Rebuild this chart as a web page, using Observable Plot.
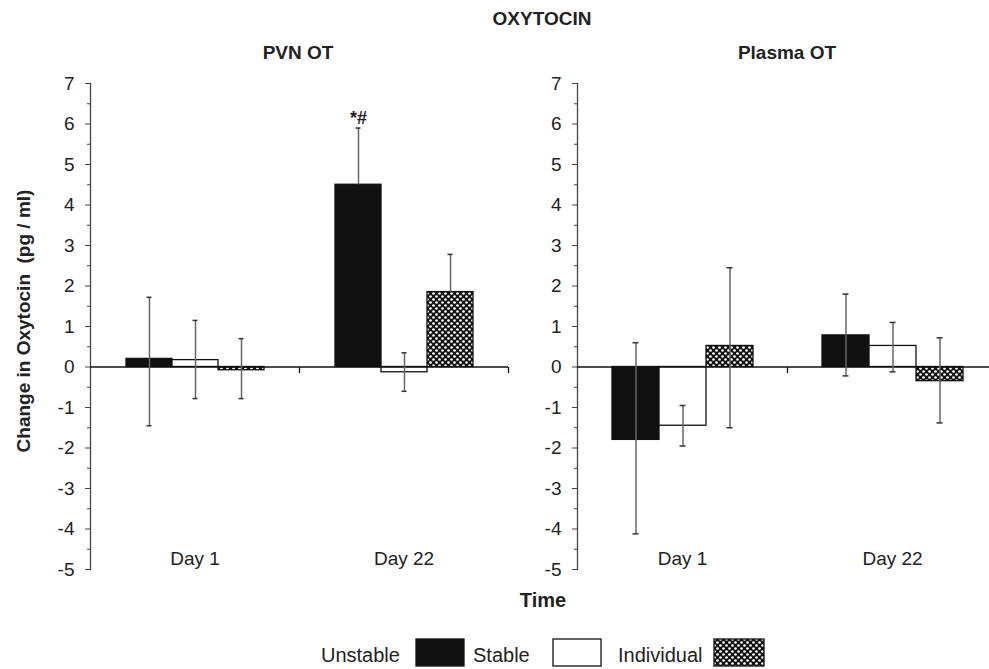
<!DOCTYPE html>
<html>
<head>
<meta charset="utf-8">
<script src="https://cdn.jsdelivr.net/npm/d3@7"></script>
<script src="https://cdn.jsdelivr.net/npm/@observablehq/plot@0.6"></script>
<style>
  html, body { margin: 0; padding: 0; background: #fff; overflow: hidden; }
  #wrap { position: relative; width: 989px; height: 669px; overflow: hidden; font-family: "Liberation Sans", Arial, sans-serif; color: #222; }
  .t { position: absolute; white-space: nowrap; }
  .bold { font-weight: bold; }
  .plot { position: absolute; }
</style>
</head>
<body>
<svg width="0" height="0" style="position:absolute">
  <defs>
    <pattern id="hatch" width="6" height="6" patternUnits="userSpaceOnUse">
      <rect width="6" height="6" fill="#111"></rect>
      <circle cx="1.5" cy="1.5" r="1.35" fill="#fff"></circle>
      <circle cx="4.5" cy="4.5" r="1.35" fill="#fff"></circle>
    </pattern>
  </defs>
</svg>
<div id="wrap"></div>
<script>
// ---- data (order: Day 1 Unstable, Stable, Individual, Day 22 Unstable, Stable, Individual)
const days = ["Day 1", "Day 22"];
const groups = ["Unstable", "Stable", "Individual"];
const panelTitles = ["PVN OT", "Plasma OT"];
const yTicks = [-5, -4, -3, -2, -1, 0, 1, 2, 3, 4, 5, 6, 7];
const yMinorTicks = [-4.5, -3.5, -2.5, -1.5, -0.5, 0.5, 1.5, 2.5, 3.5, 4.5, 5.5, 6.5];

const pvnMean  = [0.2, 0.17, -0.08, 4.5, -0.13, 1.85];
const pvnLower = [-1.45, -0.78, -0.78, 4.5, -0.6, 1.85];
const pvnUpper = [1.72, 1.15, 0.7, 5.9, 0.35, 2.78];
const pvnSig   = ["", "", "", "*#", "", ""];

const plasmaMean  = [-1.8, -1.45, 0.52, 0.78, 0.52, -0.35];
const plasmaLower = [-4.12, -1.95, -1.5, -0.22, -0.12, -1.38];
const plasmaUpper = [0.6, -0.95, 2.45, 1.8, 1.1, 0.72];
const plasmaSig   = ["", "", "", "", "", ""];

const fills = ["#111", "#fff", "url(#hatch)"];

function rowsFor(mean, lo, hi, sig) {
  return days.flatMap((day, i) => groups.map((group, j) => {
    const k = i * groups.length + j;
    return {day, group, mean: mean[k], lo: lo[k], hi: hi[k], sig: sig[k]};
  }));
}

function panel(rows, opts) {
  return Plot.plot({
    width: opts.width,
    height: 510,
    marginTop: 13,
    marginBottom: 11,
    marginLeft: opts.marginLeft,
    marginRight: opts.marginRight,
    style: {fontFamily: '"Liberation Sans", Arial, sans-serif', fontSize: "19px", color: "#222", background: "transparent", overflow: "visible"},
    fx: {domain: days, padding: 0, axis: null},
    x: {type: "band", domain: groups, paddingInner: 0, paddingOuter: 0.73, axis: null},
    y: {domain: [-5, 7], axis: null},
    color: {type: "ordinal", domain: groups, range: fills},
    marks: [
      Plot.frame({anchor: "left", facet: "super", stroke: "#444", strokeWidth: 1.3}),
      Plot.axisY(yMinorTicks, {tickSize: 3, tickFormat: () => "", stroke: "#444", label: null}),
      Plot.axisY(yTicks, {tickSize: 5, tickPadding: 11, tickFormat: d => String(d), fontSize: 19, stroke: "#444", fill: "#222", label: null}),
      Plot.barY(rows, {fx: "day", x: "group", y: "mean", fill: "group", stroke: "#111", strokeWidth: 1.3}),
      Plot.ruleY([0], {stroke: "#111", strokeWidth: 1.3}),
      Plot.dot(days, {fx: d => d, y: () => 0, frameAnchor: "right", r: 3, fill: "none", stroke: "#111", strokeWidth: 1.3,
        symbol: {draw(ctx) { ctx.moveTo(0, 0); ctx.lineTo(0, 6); }}}),
      Plot.ruleX(rows, {fx: "day", x: "group", y1: "lo", y2: "hi", stroke: "#666", strokeWidth: 1.5}),
      Plot.tickY(rows.filter(r => r.hi > r.mean), {fx: "day", x: "group", y: "hi", stroke: "#333", strokeWidth: 1.5, insetLeft: 20.5, insetRight: 20.5}),
      Plot.tickY(rows.filter(r => r.lo < r.mean), {fx: "day", x: "group", y: "lo", stroke: "#333", strokeWidth: 1.5, insetLeft: 20.5, insetRight: 20.5}),
      Plot.text(rows.filter(r => r.sig), {fx: "day", x: "group", y: "hi", text: "sig", dy: -10, fontSize: 18, fontWeight: "bold", fill: "#222"}),
      Plot.text(days, {fx: d => d, text: d => d, frameAnchor: "bottom", dy: -5, fontSize: 19, fill: "#222"})
    ]
  });
}

const wrap = document.getElementById("wrap");

function addText(txt, css, cls) {
  const el = document.createElement("div");
  el.className = "t " + (cls || "");
  el.textContent = txt;
  Object.assign(el.style, css);
  wrap.appendChild(el);
  return el;
}

// titles
addText("OXYTOCIN", {left: "542px", top: "8px", transform: "translateX(-50%)", fontSize: "19px"}, "bold");
addText(panelTitles[0], {left: "298px", top: "42px", transform: "translateX(-50%)", fontSize: "19px"}, "bold");
addText(panelTitles[1], {left: "787px", top: "42px", transform: "translateX(-50%)", fontSize: "19px"}, "bold");
addText("Change in Oxytocin  (pg / ml)", {left: "24px", top: "321px", transform: "translate(-50%,-50%) rotate(-90deg)", fontSize: "19px", whiteSpace: "pre"}, "bold");
addText("Time", {left: "543px", top: "589px", transform: "translateX(-50%)", fontSize: "20px"}, "bold");

// panels
const left = panel(rowsFor(pvnMean, pvnLower, pvnUpper, pvnSig), {width: 510, marginLeft: 89, marginRight: 2});
left.classList.add("plot");
Object.assign(left.style, {left: "0px", top: "70px"});
wrap.appendChild(left);

const right = panel(rowsFor(plasmaMean, plasmaLower, plasmaUpper, plasmaSig), {width: 507, marginLeft: 87, marginRight: 0});
right.classList.add("plot");
Object.assign(right.style, {left: "490px", top: "70px"});
wrap.appendChild(right);

// legend
const legendPos = [{text: 321, box: 415}, {text: 473, box: 552}, {text: 618, box: 713}];
groups.forEach((g, i) => {
  addText(g, {left: legendPos[i].text + "px", top: "644px", fontSize: "20px"});
  const ns = "http://www.w3.org/2000/svg";
  const s = document.createElementNS(ns, "svg");
  s.setAttribute("width", 52); s.setAttribute("height", 30);
  s.style.position = "absolute"; s.style.left = legendPos[i].box + "px"; s.style.top = "638px";
  const r = document.createElementNS(ns, "rect");
  r.setAttribute("x", 1); r.setAttribute("y", 1); r.setAttribute("width", i === 2 ? 50 : 48); r.setAttribute("height", 27);
  r.setAttribute("fill", fills[i]); r.setAttribute("stroke", "#111"); r.setAttribute("stroke-width", 1.3);
  s.appendChild(r);
  wrap.appendChild(s);
});
</script>
</body>
</html>
